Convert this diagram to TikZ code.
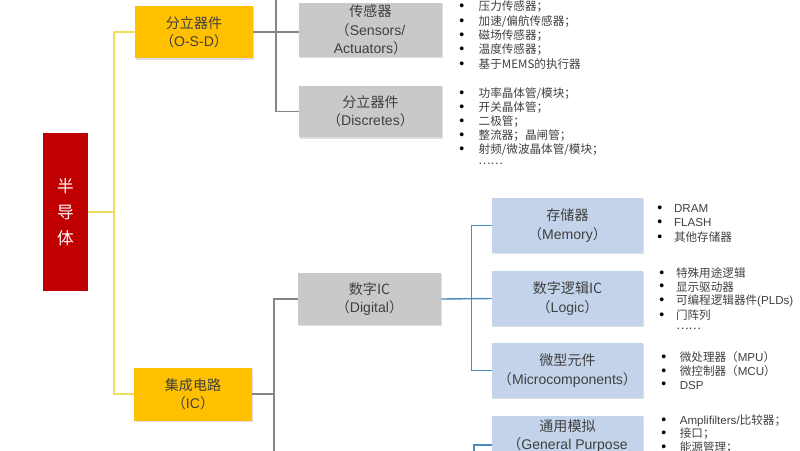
\documentclass[tikz,border=0pt]{standalone}
\usepackage{fontspec}
\setmainfont{Liberation Sans}
\newfontfamily\cjk{Noto Sans CJK SC}
\usetikzlibrary{shadows}

\definecolor{semired}{HTML}{C00000}
\definecolor{gold}{HTML}{FFC000}
\definecolor{boxgray}{HTML}{C9C9C9}
\definecolor{boxblue}{HTML}{C3D4EA}
\definecolor{linegray}{HTML}{858585}
\definecolor{lineblue}{HTML}{4C8BBE}
\definecolor{lineyellow}{HTML}{EEDC5C}
\definecolor{txtgray}{HTML}{404040}

\newcommand{\kl}{{\cjk （}}
\newcommand{\kr}{{\cjk ）}}
\newcommand{\bul}[1]{\makebox[#1][l]{\raisebox{0.2pt}{\fontsize{8}{8}\selectfont\color{black}\textbullet}}}

\tikzset{
  box/.style={rectangle, align=center, text=txtgray, inner sep=1pt,
    font=\fontsize{8}{10.5}\selectfont,
    drop shadow={shadow xshift=0.7pt, shadow yshift=-0.7pt, opacity=0.25}},
  osdbox/.style={box, fill=gold, minimum width=2.36cm, minimum height=1.06cm},
  graybox/.style={box, fill=boxgray, minimum width=2.86cm, minimum height=1.04cm},
  bluebox/.style={box, fill=boxblue, minimum width=3.02cm, minimum height=1.1cm},
  item/.style={anchor=west, inner sep=0pt, text=txtgray,
    font=\fontsize{6.6}{8}\selectfont},
  yline/.style={lineyellow, line width=1pt},
  gline/.style={linegray, line width=0.8pt},
  bline/.style={lineblue, line width=0.8pt}
}

\begin{document}
\begin{tikzpicture}[x=0.02cm, y=-0.02cm]
    \useasboundingbox (0,0) rectangle (800,450);
    \clip (0,0) rectangle (800,450);

    % Root
    \node[fill=semired, minimum width=0.9cm, minimum height=3.16cm, text=white,
          align=center, font=\fontsize{9.5}{15}\selectfont\cjk] (semi) at (65.5,212) {半\\导\\体};

    % First level
    \node[osdbox] (osd) at (194,32) {{\cjk 分立器件}\\\kl O-S-D\kr};
    \node[osdbox] (ic) at (193,394) {{\cjk 集成电路}\\\kl IC\kr};

    % Second level
    \node[graybox] (sens) at (370.5,30) {{\cjk 传感器}\\\kl Sensors/\\Actuators\kr};
    \node[graybox] (disc) at (370.5,111.5) {{\cjk 分立器件}\\\kl Discretes\kr};
    \node[graybox] (dig) at (369.5,299) {{\cjk 数字IC}\\\kl Digital\kr};

    % Third level
    \node[bluebox] (mem) at (567.5,225.5) {{\cjk 存储器}\\\kl Memory\kr};
    \node[bluebox] (logic) at (567.5,298.5) {{\cjk 数字逻辑IC}\\\kl Logic\kr};
    \node[bluebox] (micro) at (567.5,370.5) {{\cjk 微型元件}\\\kl Microcomponents\kr};
    \node[bluebox, minimum height=1.16cm] (gp) at (567.5,445) {{\cjk 通用模拟}\\\kl General Purpose\\Analog\kr};

    % Connectors
    \coordinate (ymid) at (114,212);
    \draw[yline] (semi.east) -- (ymid);
    \draw[yline] (osd.west) -| (ymid) |- (ic.west);

    \coordinate (gtop) at (276,-10);
    \draw[gline] (osd.east) -- (sens.west |- osd.east);
    \draw[gline] (gtop) |- (disc.west);
    \coordinate (gbot) at (274,470);
    \draw[gline] (ic.east) -- (ic.east -| gbot);
    \draw[gline] (dig.west) -| (gbot);

    \draw[bline] (dig.east) -- (logic.west);
    \draw[bline] (mem.west) -- ++(-20,0) |- (micro.west);
    \coordinate (bbot) at (474,470);
    \draw[bline] (bbot) |- (gp.west);

    % Lists
    \foreach \y/\txt [count=\i] in {7/{压力传感器；}, 22/{加速/偏航传感器；}, 36/{磁场传感器；},
        50/{温度传感器；}, 64/{基于MEMS的执行器}} {
        \node[item] (sl\i) at (459,\y) {\bul{11pt}{\cjk \txt}};
    }
    \foreach \y/\txt [count=\i] in {94/{功率晶体管/模块；}, 108/{开关晶体管；}, 122/{二极管；},
        136/{整流器；晶闸管；}, 150/{射频/微波晶体管/模块；}} {
        \node[item] (dl\i) at (459,\y) {\bul{11pt}{\cjk \txt}};
    }
    \node[item] (dldots) at (478,164) {\cjk ……};

    \foreach \y/\txt [count=\i] in {209/{DRAM}, 223/{FLASH}, 237/{{\cjk 其他存储器}}} {
        \node[item] (ml\i) at (657,\y) {\bul{9.5pt}\txt};
    }
    \foreach \y/\txt [count=\i] in {273/{{\cjk 特殊用途逻辑}}, 287/{{\cjk 显示驱动器}},
        301/{{\cjk 可编程逻辑器件}(PLDs)}, 315/{{\cjk 门阵列}}} {
        \node[item] (ll\i) at (659,\y) {\bul{9.5pt}\txt};
    }
    \node[item] (lldots) at (676,329) {\cjk ……};

    \foreach \y/\txt [count=\i] in {357/{{\cjk 微处理器（}MPU{\cjk ）}},
        371/{{\cjk 微控制器（}MCU{\cjk ）}}, 385/{DSP}} {
        \node[item] (cl\i) at (661,\y) {\bul{10.5pt}\txt};
    }
    \foreach \y/\txt [count=\i] in {421/{Amplifilters/{\cjk 比较器；}}, 434/{{\cjk 接口；}},
        448/{{\cjk 能源管理；}}} {
        \node[item] (gl\i) at (661,\y) {\bul{10.5pt}\txt};
    }
\end{tikzpicture}
\end{document}
